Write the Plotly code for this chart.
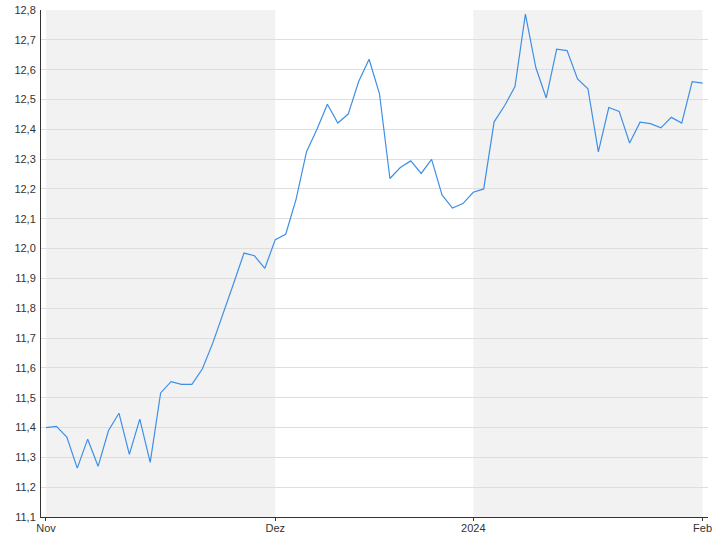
import pandas as pd
import plotly.graph_objects as go

holidays = ["2023-12-25", "2023-12-26", "2024-01-01"]
dates = [d for d in pd.bdate_range("2023-11-01", "2024-02-01") if d.strftime("%Y-%m-%d") not in holidays]

values = [
    11.400, 11.404, 11.368, 11.264, 11.361, 11.270, 11.390, 11.448, 11.310, 11.428,
    11.283, 11.516, 11.554, 11.545, 11.545, 11.596, 11.683, 11.781, 11.883, 11.985,
    11.976, 11.934, 12.030, 12.048, 12.166, 12.325, 12.400, 12.484, 12.421, 12.451,
    12.560, 12.635, 12.519, 12.235, 12.272, 12.294, 12.252, 12.299, 12.180, 12.136,
    12.151, 12.189, 12.200, 12.425, 12.479, 12.543, 12.786, 12.607, 12.505, 12.669,
    12.664, 12.569, 12.536, 12.324, 12.473, 12.460, 12.354, 12.424, 12.419, 12.405,
    12.440, 12.421, 12.560, 12.555,
]

tick_vals = ["2023-11-01", "2023-12-01", "2024-01-02", "2024-02-01"]
tick_text = ["Nov", "Dez", "2024", "Feb"]

shade_bands = [("2023-11-01", "2023-12-01"), ("2024-01-02", "2024-02-01")]

fig = go.Figure()
fig.add_trace(go.Scatter(
    x=dates, y=values, mode="lines",
    line=dict(color="#3f8fe6", width=1.2),
    hoverinfo="x+y", showlegend=False,
))

for x0, x1 in shade_bands:
    fig.add_shape(type="rect", xref="x", yref="paper", x0=x0, x1=x1, y0=0, y1=1,
                  fillcolor="#f2f2f2", line=dict(width=0), layer="between")

fig.update_layout(
    width=720, height=540,
    margin=dict(l=41, r=12, t=10, b=23),
    paper_bgcolor="white", plot_bgcolor="white",
    separators=",.",
    font=dict(family="Liberation Sans, Arial, sans-serif", size=11, color="#333333"),
    xaxis=dict(
        type="date", automargin=False,
        range=["2023-10-31 12:30", "2024-02-01 12:30"],
        rangebreaks=[dict(bounds=["sat", "mon"]), dict(values=holidays)],
        tickvals=tick_vals, ticktext=tick_text,
        showgrid=False, showline=True, linecolor="#333333", linewidth=1,
        ticks="outside", ticklen=3, tickcolor="#333333",
        zeroline=False, ticklabelstandoff=-2,
    ),
    yaxis=dict(
        automargin=False,
        range=[11.1, 12.8], dtick=0.1, tick0=11.1, tickformat=".1f",
        showgrid=True, gridcolor="#dedede", gridwidth=1,
        showline=True, linecolor="#333333", linewidth=1,
        ticks="", zeroline=False, ticklabelstandoff=2,
    ),
)

fig.write_html("out.html", config={"displayModeBar": False},
               post_script="document.body.style.margin='0px';")
